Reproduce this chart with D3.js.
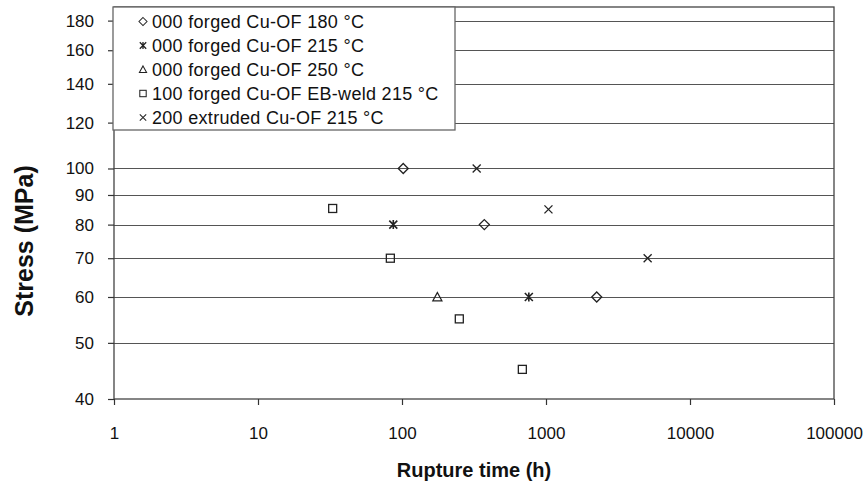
<!DOCTYPE html>
<html>
<head>
<meta charset="utf-8">
<script src="https://cdnjs.cloudflare.com/ajax/libs/d3/7.8.5/d3.min.js"></script>
<style>
  body { margin: 0; background: #fff; }
  text { font-family: "Liberation Sans", Arial, sans-serif; fill: #111; }
</style>
</head>
<body>
<svg width="865" height="486"></svg>
<script>
// series data, [rupture time (h), stress (MPa)]
var forged180 = [[102, 100], [373, 80], [2250, 60]];
var forged215 = [[87, 80], [760, 60]];
var forged250 = [[176, 60]];
var ebWeld215 = [[33, 85.3], [83, 70], [250, 55], [685, 45]];
var extruded215 = [[330, 100], [1040, 85], [5080, 70]];

var seriesNames = ["000 forged Cu-OF 180 °C", "000 forged Cu-OF 215 °C", "000 forged Cu-OF 250 °C",
  "100 forged Cu-OF EB-weld 215 °C", "200 extruded Cu-OF 215 °C"];
var seriesMarks = ["diamond", "asterisk", "triangle", "square", "cross"];

var xTicks = [1, 10, 100, 1000, 10000, 100000];
var yTicks = [40, 50, 60, 70, 80, 90, 100, 120, 140, 160, 180];

var allSeries = [forged180, forged215, forged250, ebWeld215, extruded215];

// select svg, set margins
var svg = d3.select("svg"),
  margin = {top: 7, right: 31, bottom: 87, left: 114},
  width = +svg.attr("width") - margin.left - margin.right,
  height = +svg.attr("height") - margin.top - margin.bottom,
  g = svg.append("g").attr("transform", "translate(" + margin.left + "," + margin.top + ")");

// log scales both ways
var x = d3.scaleLog().domain([1, 100000]).range([0, width]);
var y = d3.scaleLog().domain([40, 190]).range([height, 0]);

// gridlines
g.selectAll(".grid")
  .data(yTicks.slice(1))
  .enter().append("line")
  .attr("class", "grid")
  .attr("x1", 0).attr("x2", width)
  .attr("y1", function(d) { return Math.round(y(d)) + 0.5; })
  .attr("y2", function(d) { return Math.round(y(d)) + 0.5; })
  .style("stroke", "#555")
  .style("stroke-width", 1.2);

// frame round plot area
g.append("rect")
  .attr("x", 0).attr("y", 0)
  .attr("width", width).attr("height", height)
  .style("fill", "none")
  .style("stroke", "#444")
  .style("stroke-width", 1.3);

// x axis
var xAxis = g.append("g")
  .attr("transform", "translate(0," + height + ")")
  .call(d3.axisBottom(x).tickValues(xTicks).tickFormat(d3.format("d")).tickSize(6).tickPadding(22));
// y axis
var yAxis = g.append("g")
  .call(d3.axisLeft(y).tickValues(yTicks).tickFormat(d3.format("d")).tickSize(6).tickPadding(14));

[xAxis, yAxis].forEach(function(a) {
  a.select(".domain").remove();
  a.selectAll("line").style("stroke", "#333").style("stroke-width", 1.2);
  a.selectAll("text").style("font-size", "17px").style("font-family", "'Liberation Sans', Arial, sans-serif").attr("fill", "#111");
});

// axis titles
svg.append("text")
  .attr("x", margin.left + width / 2)
  .attr("y", 477)
  .attr("text-anchor", "middle")
  .style("font-size", "20px")
  .style("font-weight", "bold")
  .text("Rupture time (h)");

svg.append("text")
  .attr("transform", "translate(33," + (margin.top + 234) + ") rotate(-90)")
  .attr("text-anchor", "middle")
  .style("font-size", "25px")
  .style("font-weight", "bold")
  .text("Stress (MPa)");

// marker shapes
function marker(sel, type) {
  var s = 4;
  sel.style("fill", "none").style("stroke", "#222").style("stroke-width", 1.3);
  if (type == "diamond") {
    sel.append("path").attr("d", "M0,-5L5,0L0,5L-5,0Z");
  } else if (type == "square") {
    sel.append("rect").attr("x", -s).attr("y", -s).attr("width", 2 * s).attr("height", 2 * s);
  } else if (type == "triangle") {
    sel.append("path").attr("d", "M0,-4.5L4.5,3.8L-4.5,3.8Z");
  } else if (type == "cross") {
    sel.append("path").attr("d", "M-4,-4L4,4M-4,4L4,-4");
  } else if (type == "asterisk") {
    sel.append("path").attr("d", "M-4,-4L4,4M-4,4L4,-4M0,-4.5L0,4.5").style("stroke-width", 1.6);
  }
}

// draw points
allSeries.forEach(function(data, i) {
  g.selectAll(".pt" + i)
    .data(data)
    .enter().append("g")
    .attr("class", "pt" + i)
    .attr("transform", function(d) { return "translate(" + x(d[0]) + "," + y(d[1]) + ")"; })
    .each(function() { marker(d3.select(this), seriesMarks[i]); });
});

// legend box
var legend = svg.append("g").attr("transform", "translate(113,7)");
legend.append("rect")
  .attr("width", 342).attr("height", 123)
  .style("fill", "#fff")
  .style("stroke", "#666")
  .style("stroke-width", 1.3);

seriesNames.forEach(function(name, i) {
  var row = legend.append("g").attr("transform", "translate(0," + (14.5 + i * 24) + ")");
  row.append("g").attr("transform", "translate(30,0) scale(0.8)").call(marker, seriesMarks[i]);
  row.append("text")
    .attr("x", 39)
    .attr("dy", "0.35em")
    .style("font-size", "18px")
    .style("letter-spacing", "0.3px")
    .text(name);
});
</script>
</body>
</html>
